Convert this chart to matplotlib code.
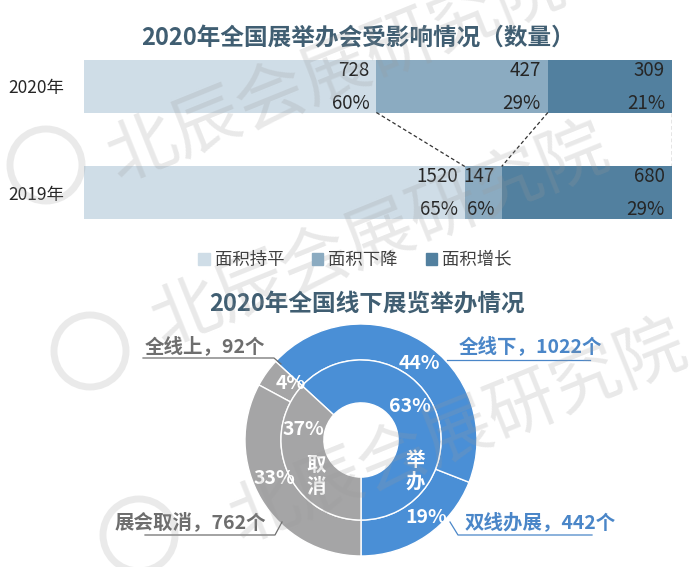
import numpy as np
import matplotlib
matplotlib.use("Agg")
import matplotlib.pyplot as plt
from matplotlib.patches import Circle, Patch

plt.rcParams['font.family'] = ['Noto Sans CJK SC', 'DejaVu Sans']

# top chart data
years = ['2020年', '2019年']
bar_cats = ['面积持平', '面积下降', '面积增长']
counts_2020 = [728, 427, 309]
counts_2019 = [1520, 147, 680]
pct_2020 = ['60%', '29%', '21%']
pct_2019 = ['65%', '6%', '29%']
bar_colors = ['#cfdde7', '#8babc1', '#52809f']

# donut data
inner_labels = ['举办', '取消']
inner_vals = [1464, 854]
inner_pct = ['63%', '37%']
outer_labels = ['双线办展', '全线下', '全线上', '展会取消']
outer_vals = [442, 1022, 92, 762]
outer_pct = ['19%', '44%', '4%', '33%']
blue = '#4a8fd6'
grey = '#a5a5a6'
outer_colors = [blue, blue, grey, grey]
inner_colors = [blue, grey]

W, H = 692, 567
fig = plt.figure(figsize=(W / 100, H / 100), dpi=100)


def box(l, t, r, b):
    return [l / W, 1 - b / H, (r - l) / W, (b - t) / H]


title_color = '#405e72'

# ---- stacked bars
ax = fig.add_axes(box(84, 60, 672, 219))
bh = 0.493
rows = [(1, counts_2020, pct_2020), (0, counts_2019, pct_2019)]
bounds = {}
for y, cnt, pct in rows:
    tot = sum(cnt)
    left = 0
    edges = []
    for i, c in enumerate(cnt):
        w = c / tot
        ax.barh(y, w, left=left, height=bh, color=bar_colors[i], edgecolor='none')
        ax.text(left + w - 0.012, y + 0.15, str(c), ha='right', va='center',
                fontsize=13.5, color='#262626')
        ax.text(left + w - 0.012, y - 0.16, pct[i], ha='right', va='center',
                fontsize=13.5, color='#262626')
        left += w
        edges.append(left)
    bounds[y] = edges

for a, b in zip(bounds[1], bounds[0]):
    ax.plot([a, b], [1 - bh / 2, bh / 2], ls=(0, (3, 2)), color='#333333', lw=0.9)

ax.set_xlim(0, 1)
ax.set_ylim(-bh / 2, 1 + bh / 2)
ax.set_yticks([1, 0])
ax.set_yticklabels(years, fontsize=12.5, color='#262626')
ax.tick_params(axis='y', length=0, pad=14)
ax.set_xticks([])
for s in ax.spines.values():
    s.set_visible(False)

handles = [Patch(color=c) for c in bar_colors]
fig.legend(handles, bar_cats, loc='center', bbox_to_anchor=(355 / W, 1 - 260 / H),
           ncol=3, frameon=False, fontsize=12.5, handlelength=0.65, handleheight=0.65,
           handletextpad=0.3, columnspacing=1.6, labelcolor='#404040')

# ---- donut
cx, cy, R = 361, 440, 116
dax = fig.add_axes(box(cx - R, cy - R, cx + R, cy + R))
r_mid = 0.69
r_hole = 0.32
dax.pie(outer_vals, radius=1, startangle=-90, counterclock=True, colors=outer_colors,
        wedgeprops=dict(width=1 - r_mid, edgecolor='white', linewidth=1))
dax.pie(inner_vals, radius=r_mid, startangle=-90, counterclock=True, colors=inner_colors,
        wedgeprops=dict(width=r_mid - r_hole, edgecolor='white', linewidth=1))
dax.set_xlim(-1, 1)
dax.set_ylim(-1, 1)
dax.set_aspect('equal')
dax.axis('off')

# label positions (polar: angle deg, radius)
outer_pos = [(-50, 0.87), (53, 0.83), (141, 0.78), (204, 0.82)]
inner_pos = [(34, 0.51), (170, 0.50)]
inner_name_pos = [(-30, 0.54), (219, 0.50)]
for (ang, r), t in zip(outer_pos, outer_pct):
    dax.text(r * np.cos(np.radians(ang)), r * np.sin(np.radians(ang)), t, ha='center',
             va='center', color='white', fontsize=14, fontweight='bold')
for (ang, r), t in zip(inner_pos, inner_pct):
    dax.text(r * np.cos(np.radians(ang)), r * np.sin(np.radians(ang)), t, ha='center',
             va='center', color='white', fontsize=14, fontweight='bold')
for (ang, r), t in zip(inner_name_pos, inner_labels):
    dax.text(r * np.cos(np.radians(ang)), r * np.sin(np.radians(ang)), '\n'.join(t),
             ha='center', va='center', color='white', fontsize=14, fontweight='bold',
             linespacing=1.15)

# ---- overlay: titles, callouts, watermark
ov = fig.add_axes([0, 0, 1, 1])
ov.set_xlim(0, W)
ov.set_ylim(H, 0)
ov.axis('off')
ov.patch.set_alpha(0)

ov.text(358, 38, '2020年全国展举办会受影响情况（数量）', ha='center', va='center',
        fontsize=17, fontweight='bold', color=title_color)
ov.text(367, 304, '2020年全国线下展览举办情况', ha='center', va='center',
        fontsize=17, fontweight='bold', color=title_color)

call_grey = '#6e6e6e'
call_blue = '#4a86c8'
callouts = [
    ('全线上，92个', 205, 346, call_grey, [(143, 358), (274, 358), (281, 364)]),
    ('全线下，1022个', 530, 346, call_blue, [(447, 360), (590, 360)]),
    ('展会取消，762个', 190, 522, call_grey, [(145, 535), (275, 535), (282, 522)]),
    ('双线办展，442个', 540, 522, call_blue, [(450, 522), (458, 535), (592, 535)]),
]
for txt, x, y, c, pts in callouts:
    ov.text(x, y, txt, ha='center', va='center', fontsize=14, fontweight='bold', color=c)
    xs, ys = zip(*pts)
    ov.plot(xs, ys, color=c, lw=0.9)

# faint watermark
wm = '北辰会展研究院'
for x, y in [(336, 72), (380, 236), (458, 433)]:
    ov.text(x, y, wm, ha='center', va='center', rotation=22, rotation_mode='anchor',
            fontsize=50, color='#9a9a9a', alpha=0.22, zorder=20)
for x, y in [(46, 165), (90, 351), (139, 535)]:
    ov.add_patch(Circle((x, y), 36, fill=False, lw=5, ec='#9a9a9a', alpha=0.2, zorder=20))

fig.savefig('out.png', dpi=100)
